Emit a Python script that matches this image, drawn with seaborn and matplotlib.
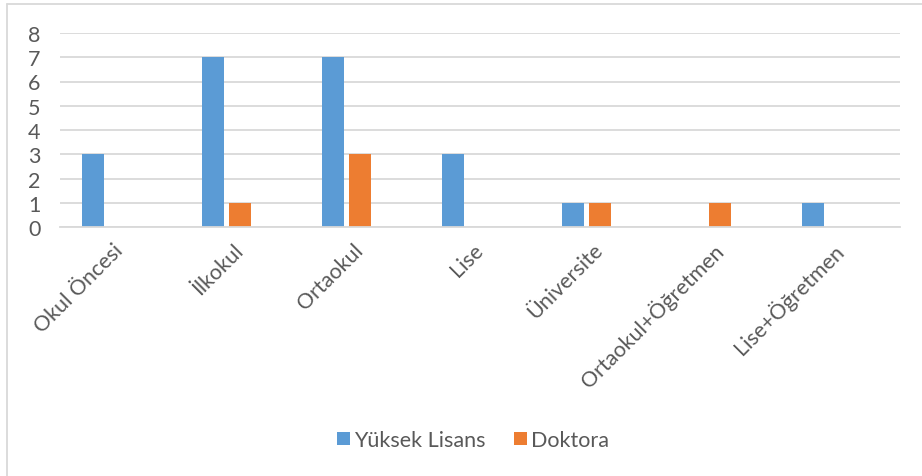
import pandas as pd
import matplotlib.pyplot as plt
import seaborn as sns
from matplotlib.patches import Patch
from matplotlib.lines import Line2D

# Data
categories = ["Okul Öncesi", "İlkokul", "Ortaokul", "Lise", "Üniversite",
              "Ortaokul+Öğretmen", "Lise+Öğretmen"]
yuksek_lisans = [3, 7, 7, 3, 1, 0, 1]
doktora = [0, 1, 3, 0, 1, 1, 0]
series = ["Yüksek Lisans", "Doktora"]
# Excel chart reserves a third (empty) slot in every group
hue_levels = series + ["(boş)"]

df = pd.DataFrame({
    "kategori": categories * 2,
    "seri": [series[0]] * len(categories) + [series[1]] * len(categories),
    "deger": yuksek_lisans + doktora,
})

sns.set_theme(style="white")
plt.rcParams["font.family"] = ["Lato", "DejaVu Sans"]

text_color = "#595959"
grid_color = "#D9D9D9"
colors = {"Yüksek Lisans": "#5B9BD5", "Doktora": "#ED7D31", "(boş)": "#A5A5A5"}

fig = plt.figure(figsize=(9.22, 4.77), dpi=100)
ax = fig.add_axes([60 / 922, 1 - 228 / 477, 840 / 922, 194 / 477])

sns.barplot(
    data=df, x="kategori", y="deger", hue="seri",
    order=categories, hue_order=hue_levels, palette=colors, saturation=1,
    width=0.675, gap=0.22, linewidth=0, legend=False, ax=ax,
)

ax.set_xlim(-0.5, len(categories) - 0.5)
ax.set_ylim(0, 8)
ax.set_yticks(range(0, 9))
ax.yaxis.grid(True, color=grid_color, linewidth=1.3)
ax.set_axisbelow(True)
ax.set_xlabel("")
ax.set_ylabel("")
for s in ["top", "right", "left"]:
    ax.spines[s].set_visible(False)
ax.spines["bottom"].set_color(grid_color)
ax.spines["bottom"].set_linewidth(1.3)

ax.tick_params(axis="y", length=0, pad=14, labelsize=15.5, labelcolor=text_color)
ax.tick_params(axis="x", length=0, pad=14, labelsize=15.5, labelcolor=text_color)
plt.setp(ax.get_xticklabels(), rotation=45, ha="right", va="center",
         rotation_mode="anchor")

handles = [Patch(facecolor=colors[s], edgecolor="none", label=s) for s in series]
fig.legend(
    handles=handles, loc="center", bbox_to_anchor=(473 / 922, 1 - 441 / 477),
    ncol=2, frameon=False, fontsize=15.5, labelcolor=text_color,
    handlelength=0.6, handleheight=0.6, handletextpad=0.2, columnspacing=1.3,
)

# chart border (Excel style)
fig.add_artist(Line2D([7 / 922, 7 / 922], [0, 1 - 5 / 477], color=grid_color, linewidth=1.3))
fig.add_artist(Line2D([7 / 922, 1], [1 - 5 / 477, 1 - 5 / 477], color=grid_color, linewidth=1.3))

fig.savefig("out.png", dpi=100)
